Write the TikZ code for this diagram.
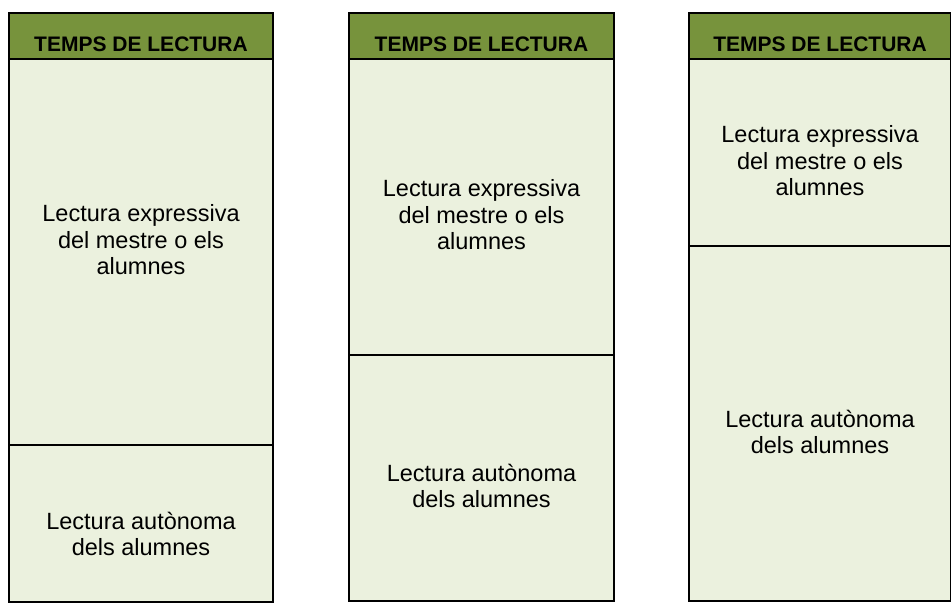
\documentclass[tikz,border=0pt]{standalone}
\usepackage{fontspec}
\setmainfont{Liberation Sans}
\definecolor{olive}{HTML}{77933C}
\definecolor{paleolive}{HTML}{EBF1DE}

\begin{document}
\begin{tikzpicture}[x=1pt,y=-1pt,line width=1.8pt,
  head/.style={fill=olive,draw=black},
  cell/.style={fill=paleolive,draw=black},
  title/.style={font=\bfseries\fontsize{21}{25}\selectfont},
  txt/.style={align=center,font=\fontsize{23.5}{26.5}\selectfont}]
\useasboundingbox (0,0) rectangle (951,604);
% first column
\draw[cell] (9,59) rectangle (273,445);
\draw[cell] (9,445) rectangle (273,602);
\draw[head] (9,13) rectangle (273,59);
\node[title] (t1) at (141,44) {TEMPS DE LECTURA};
\node[txt] (e1) at (141,240) {Lectura expressiva\\del mestre o els\\alumnes};
\node[txt] (a1) at (141,534) {Lectura autònoma\\dels alumnes};
% second column
\draw[cell] (349,59) rectangle (614,355);
\draw[cell] (349,355) rectangle (614,601);
\draw[head] (349,13) rectangle (614,59);
\node[title] (t2) at (481.5,44) {TEMPS DE LECTURA};
\node[txt] (e2) at (481.5,215) {Lectura expressiva\\del mestre o els\\alumnes};
\node[txt] (a2) at (481.5,486) {Lectura autònoma\\dels alumnes};
% third column
\draw[cell] (689,59) rectangle (951,246);
\draw[cell] (689,246) rectangle (951,601);
\draw[head] (689,13) rectangle (951,59);
\node[title] (t3) at (820,44) {TEMPS DE LECTURA};
\node[txt] (e3) at (820,161) {Lectura expressiva\\del mestre o els\\alumnes};
\node[txt] (a3) at (820,432) {Lectura autònoma\\dels alumnes};
\end{tikzpicture}
\end{document}
